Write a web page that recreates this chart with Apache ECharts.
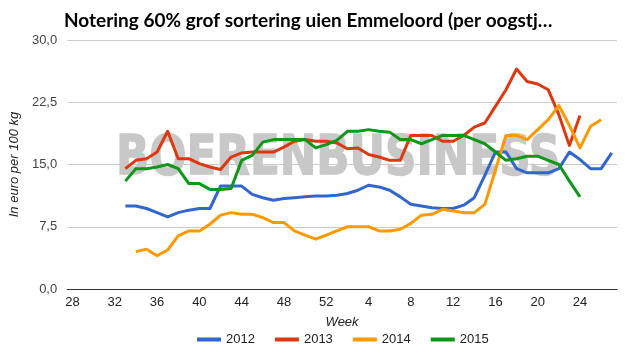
<!DOCTYPE html>
<html>
<head>
<meta charset="utf-8">
<script src="https://cdn.jsdelivr.net/npm/echarts@6/dist/echarts.min.js"></script>
<style>
html,body{margin:0;padding:0;background:#fff;}
#chart{width:629px;height:361px;}
</style>
</head>
<body>
<div id="chart"></div>
<script>
var weeks = ['28','29','30','31','32','33','34','35','36','37','38','39','40','41','42','43','44','45','46','47','48','49','50','51','52',
  '1','2','3','4','5','6','7','8','9','10','11','12','13','14','15','16','17','18','19','20','21','22','23','24','25','26','27'];

var s2012 = [null,null,null,null,null,
  10.0,10.0,9.7,9.2,8.7,9.2,9.5,9.7,9.7,12.4,12.4,12.4,11.4,11.0,10.7,10.9,11.0,11.1,11.2,11.2,
  11.3,11.5,11.9,12.5,12.3,11.9,11.1,10.2,10.0,9.8,9.7,9.7,10.1,11.0,13.7,16.5,16.5,14.5,14.0,14.0,14.0,14.5,16.5,15.6,14.5,14.5,16.4];

var s2013 = [null,null,null,null,null,
  14.5,15.5,15.7,16.5,19.0,15.7,15.7,15.1,14.7,14.4,15.9,16.4,16.5,16.5,16.5,17.1,17.8,18.0,17.8,17.8,
  17.6,16.9,17.0,16.2,15.9,15.5,15.5,18.5,18.5,18.5,17.8,17.8,18.5,19.5,20.0,22.0,24.0,26.5,25.0,24.7,24.0,21.0,17.3,20.9,null,null,null];

var s2014 = [null,null,null,null,null,null,
  4.5,4.8,4.0,4.7,6.4,7.0,7.0,7.8,8.9,9.2,9.0,9.0,8.6,8.0,8.0,7.0,6.5,6.0,6.5,
  7.0,7.5,7.5,7.5,7.0,7.0,7.2,7.9,8.9,9.0,9.6,9.4,9.2,9.2,10.2,14.3,18.5,18.5,18.0,19.2,20.4,22.1,19.7,17.0,19.6,20.4,null];

var s2015 = [null,null,null,null,null,
  13.0,14.5,14.5,14.7,15.0,14.5,12.7,12.7,12.0,12.0,12.1,15.5,16.1,17.7,18.0,18.0,18.0,18.0,17.0,17.4,
  17.9,19.0,19.0,19.2,19.0,18.9,18.0,18.0,17.5,18.0,18.5,18.5,18.5,18.0,17.5,16.5,15.5,15.7,16.0,16.0,15.5,15.0,13.0,11.1,null,null,null];

var seriesNames = ['2012','2013','2014','2015'];
var seriesData = [s2012, s2013, s2014, s2015];
var colors = ['#3366cc','#dc3912','#ff9900','#109618'];

var chart = echarts.init(document.getElementById('chart'), null, {renderer:'canvas'});
var option = {
  animation: false,
  color: colors,
  title: {
    text: 'Notering 60% grof sortering uien Emmeloord (per oogstj…',
    left: 59, top: 6,
    textStyle: {fontFamily: 'Lato', fontWeight: 'bold', fontSize: 19, color: '#000'}
  },
  graphic: [{
    type: 'text', x: 116, y: 159, z: 1, scaleX: 0.78,
    style: {text: 'BOERENBUSINESS', font: 'bold 56px "DejaVu Sans"', fill: '#c8c8c8',
      stroke: '#c8c8c8', lineWidth: 1.5, align: 'left', verticalAlign: 'middle'}
  }],
  grid: {left: 63, right: 12, top: 40, bottom: 72},
  legend: {
    data: seriesNames, bottom: 10, left: 192,
    icon: 'rect', itemWidth: 24, itemHeight: 4, itemGap: 20,
    textStyle: {fontFamily: 'Liberation Sans', fontSize: 13, color: '#222'}
  },
  xAxis: {
    type: 'category', data: weeks, boundaryGap: true,
    name: 'Week', nameLocation: 'middle', nameGap: 27,
    nameTextStyle: {fontFamily: 'Liberation Sans', fontStyle: 'italic', fontSize: 13, color: '#222'},
    axisLine: {lineStyle: {color: '#333', width: 1}},
    axisTick: {show: false},
    axisLabel: {interval: 3, fontFamily: 'Liberation Sans', fontSize: 13, color: '#222', margin: 7},
    splitLine: {show: false}
  },
  yAxis: {
    type: 'value', min: 0, max: 30, interval: 7.5,
    name: 'In euro per 100 kg', nameLocation: 'middle', nameGap: 34,
    nameTextStyle: {fontFamily: 'Liberation Sans', fontStyle: 'italic', fontSize: 13, color: '#222'},
    axisLine: {show: false}, axisTick: {show: false},
    axisLabel: {fontFamily: 'Liberation Sans', fontSize: 13, color: '#444', margin: 10,
      formatter: function(v){ return v.toFixed(1).replace('.', ','); }},
    splitLine: {lineStyle: {color: '#cccccc', width: 1}}
  },
  series: seriesNames.map(function(n, i){
    return {
      name: n, type: 'line', data: seriesData[i], showSymbol: false, symbol: 'none',
      connectNulls: false, z: 3,
      lineStyle: {width: 3, color: colors[i], join: 'round'},
      emphasis: {disabled: true}
    };
  })
};
chart.setOption(option);
</script>
</body>
</html>
